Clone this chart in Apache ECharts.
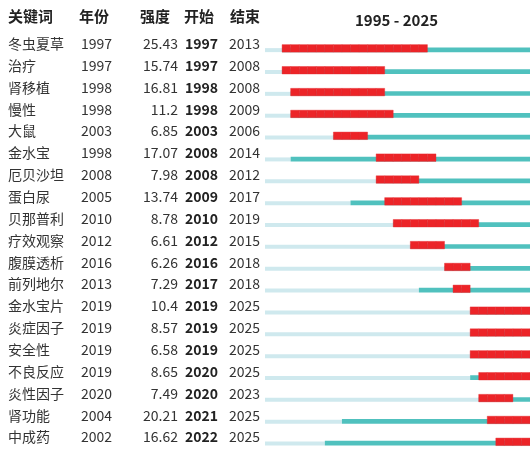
<!DOCTYPE html>
<html><head><meta charset="utf-8">
<script src="https://cdn.jsdelivr.net/npm/echarts@6/dist/echarts.min.js"></script>
<style>html,body{margin:0;padding:0;background:#fff}#c{width:530px;height:453px}</style>
</head><body><div id="c"></div>
<script>
const keywords = ['冬虫夏草','治疗','肾移植','慢性','大鼠','金水宝','厄贝沙坦','蛋白尿','贝那普利','疗效观察','腹膜透析','前列地尔','金水宝片','炎症因子','安全性','不良反应','炎性因子','肾功能','中成药'];
const years = [1997,1997,1998,1998,2003,1998,2008,2005,2010,2012,2016,2013,2019,2019,2019,2019,2020,2004,2002];
const strengths = ['25.43','15.74','16.81','11.2','6.85','17.07','7.98','13.74','8.78','6.61','6.26','7.29','10.4','8.57','6.58','8.65','7.49','20.21','16.62'];
const begins = [1997,1997,1998,1998,2003,2008,2008,2009,2010,2012,2016,2017,2019,2019,2019,2020,2020,2021,2022];
const ends = [2013,2008,2008,2009,2006,2014,2012,2017,2019,2015,2018,2018,2025,2025,2025,2025,2023,2025,2025];
const headers = ['关键词','年份','强度','开始','结束'];
const rangeStart = 1995, rangeEnd = 2025;

const FONT = '"Noto Sans CJK SC", "Noto Sans", sans-serif';
const chart = echarts.init(document.getElementById('c'));
const data = keywords.map((k,i)=>[i, years[i], begins[i], ends[i]]);
const headerX = [8, 79, 140, 184, 230];
const titles = headers.map((h,i)=>({text:h, left:headerX[i], top:9, padding:0, textStyle:{fontFamily:FONT,fontSize:15,fontWeight:'bold',color:'#222'}}));
titles.push({text: rangeStart + ' - ' + rangeEnd, left:355, top:13, padding:0, textStyle:{fontFamily:FONT,fontSize:15,fontWeight:'bold',color:'#222'}});

chart.setOption({
  animation:false,
  title: titles,
  grid:{left:265,right:0,top:37.7,bottom:-2.7},
  xAxis:{type:'value',min:rangeStart,max:rangeEnd+1,show:false},
  yAxis:{type:'category',inverse:true,data:keywords,
    axisLine:{show:false},axisTick:{show:false},splitLine:{show:false},
    axisLabel:{align:'left',margin:257,padding:[0,0,10,0],
      formatter:(v,i)=>'{kw|'+keywords[i]+'}{yr|'+years[i]+'}{st|'+strengths[i]+'}{b|'+begins[i]+'}{e|'+ends[i]+'}',
      rich:{
        kw:{width:73,align:'left',fontFamily:FONT,fontSize:14,color:'#333'},
        yr:{width:32,align:'left',fontFamily:FONT,fontSize:14,color:'#333'},
        st:{width:65,align:'right',fontFamily:FONT,fontSize:14,color:'#333'},
        b:{width:40,align:'right',fontFamily:FONT,fontSize:14,fontWeight:'bold',color:'#222'},
        e:{width:42,align:'right',fontFamily:FONT,fontSize:14,color:'#333'}
      }}},
  series:[{
    type:'custom',
    encode:{x:[1,2,3],y:0},
    data:data,
    renderItem:function(params, api){
      const row = api.value(0);
      const yr = api.value(1), b = api.value(2), e = api.value(3);
      const c0 = api.coord([rangeStart,row]);
      const cy = c0[1];
      const x0 = c0[0];
      const xy = api.coord([yr,row])[0];
      const xEnd = api.coord([rangeEnd+1,row])[0];
      const bottom = cy + 3.5;
      const children = [
        {type:'rect',shape:{x:x0,y:bottom-4,width:xy-x0,height:4},style:{fill:'#cfe9ee'}},
        {type:'rect',shape:{x:xy,y:bottom-4.7,width:xEnd-xy,height:4.7},style:{fill:'#50c1be'}}
      ];
      for(let y=b;y<=e;y++){
        const xa = api.coord([y,row])[0], xz = api.coord([y+1,row])[0];
        children.push({type:'rect',shape:{x:xa,y:bottom-7.5,width:xz-xa,height:7.5},style:{fill:'#ec2428',stroke:'#e6292d',lineWidth:0.4}});
      }
      return {type:'group',children:children};
    }
  }]
});
</script></body></html>
